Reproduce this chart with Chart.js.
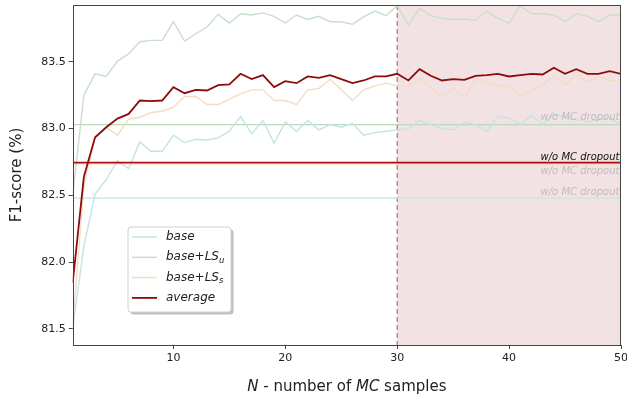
<!DOCTYPE html>
<html lang="en">
<head>
  <meta charset="UTF-8" />
  <title>F1-score vs number of MC samples</title>
  <script src="https://cdn.jsdelivr.net/npm/chart.js"></script>
  <style>
    body { margin: 0; background: #fff; }
    #wrap { width: 627px; height: 399px; }
  </style>
</head>
<body>
  <div id="wrap"><canvas id="f1Chart" width="627" height="399"></canvas></div>

  <script>
    const nSamples = [1, 2, 3, 4, 5, 6, 7, 8, 9, 10, 11, 12, 13, 14, 15, 16, 17, 18, 19, 20, 21, 22, 23, 24, 25,
      26, 27, 28, 29, 30, 31, 32, 33, 34, 35, 36, 37, 38, 39, 40, 41, 42, 43, 44, 45, 46, 47, 48, 49, 50];

    const baseF1 = [81.50, 82.12, 82.51, 82.62, 82.76, 82.70, 82.90, 82.83, 82.83, 82.95,
      82.895, 82.92, 82.915, 82.93, 82.98, 83.09, 82.96, 83.06, 82.89, 83.05,
      82.98, 83.06, 82.99, 83.03, 83.01, 83.04, 82.95, 82.97, 82.98, 82.99,
      83.00, 83.06, 83.03, 83.00, 82.99, 83.05, 83.03, 82.98, 83.09, 83.08,
      83.03, 83.10, 83.03, 83.11, 83.085, 83.065, 83.05, 83.065, 83.08, 83.03];

    const lsuF1 = [82.50, 83.25, 83.41, 83.39, 83.505, 83.56, 83.65, 83.66, 83.66, 83.80,
      83.655, 83.71, 83.76, 83.855, 83.79, 83.86, 83.85, 83.866, 83.84, 83.79,
      83.85, 83.817, 83.84, 83.80, 83.80, 83.78, 83.836, 83.88, 83.845, 83.92,
      83.775, 83.90, 83.845, 83.825, 83.817, 83.82, 83.81, 83.88, 83.825, 83.787,
      83.92, 83.86, 83.86, 83.85, 83.80, 83.86, 83.84, 83.80, 83.85, 83.85];

    const lssF1 = [81.53, 82.57, 82.93, 83.01, 82.95, 83.07, 83.085, 83.12, 83.13, 83.16,
      83.24, 83.24, 83.18, 83.18, 83.22, 83.26, 83.29, 83.29, 83.21, 83.21,
      83.18, 83.29, 83.30, 83.37, 83.29, 83.21, 83.29, 83.32, 83.34, 83.32,
      83.32, 83.375, 83.31, 83.235, 83.305, 83.23, 83.375, 83.35, 83.325, 83.31,
      83.25, 83.28, 83.325, 83.395, 83.33, 83.40, 83.35, 83.39, 83.36, 83.365];

    const avgF1 = [81.844, 82.64, 82.935, 83.01, 83.075, 83.11, 83.21, 83.205, 83.21, 83.31,
      83.265, 83.29, 83.285, 83.325, 83.33, 83.41, 83.37, 83.40, 83.31, 83.355,
      83.34, 83.39, 83.38, 83.40, 83.37, 83.34, 83.36, 83.39, 83.39, 83.41,
      83.36, 83.445, 83.395, 83.36, 83.37, 83.365, 83.395, 83.40, 83.41, 83.39,
      83.40, 83.41, 83.405, 83.455, 83.41, 83.445, 83.41, 83.41, 83.43, 83.41];

    // w/o MC dropout reference values: base, base+LS_u, base+LS_s, average
    const noDropoutF1 = [82.48, 83.03, 82.73, 82.745];
    const noDropoutText = 'w/o MC dropout';

    const xTicks = [10, 20, 30, 40, 50];
    const yTicks = [81.5, 82.0, 82.5, 83.0, 83.5];
    const shadeFrom = 30;
    const shadeTo = 50;

    const colors = ['#c4e4e4', '#c9dfca', '#f3dcc3', '#8e0b0b'];
    const flatColors = ['#c4e4e4', '#b9d9bb', 'rgba(243,220,195,0.6)', '#a80f0f'];
    const labelColors = ['rgba(150,150,150,0.5)', 'rgba(150,150,150,0.5)', 'rgba(150,150,150,0.5)', '#111'];
    const labelOffsets = [3, 5, -9, 3];

    const FONT = "'DejaVu Sans', sans-serif";
    Chart.defaults.font.family = FONT;

    const pts = arr => nSamples.map((n, i) => ({ x: n, y: arr[i] }));
    const flat = v => [{ x: nSamples[0], y: v }, { x: nSamples[nSamples.length - 1], y: v }];

    const series = [baseF1, lsuF1, lssF1, avgF1];
    const datasets = [];
    series.forEach((s, i) => {
      datasets.push({
        data: pts(s), borderColor: colors[i], borderWidth: i === 3 ? 1.8 : 1.4,
        pointRadius: 0, tension: 0, order: i === 3 ? 0 : 5 - i
      });
    });
    noDropoutF1.forEach((v, i) => {
      datasets.push({
        data: flat(v), borderColor: flatColors[i], borderWidth: i === 3 ? 1.6 : 1.2,
        pointRadius: 0, order: i === 3 ? 1 : 10 - i
      });
    });

    const decor = {
      id: 'decor',
      beforeDatasetsDraw(chart) {
        const { ctx, chartArea: a, scales: { x } } = chart;
        const x0 = x.getPixelForValue(shadeFrom), x1 = x.getPixelForValue(shadeTo);
        ctx.save();
        ctx.fillStyle = '#f2e2e3';
        ctx.fillRect(x0, a.top, x1 - x0, a.bottom - a.top);
        ctx.strokeStyle = 'rgba(165,70,70,0.75)';
        ctx.lineWidth = 1.2;
        ctx.setLineDash([5, 3]);
        ctx.beginPath();
        ctx.moveTo(x0, a.top);
        ctx.lineTo(x0, a.bottom);
        ctx.stroke();
        ctx.restore();
      },
      afterDatasetsDraw(chart) {
        const { ctx, chartArea: a, scales: { y } } = chart;
        ctx.save();
        ctx.font = 'italic 10px ' + FONT;
        ctx.textAlign = 'right';
        ctx.textBaseline = 'alphabetic';
        noDropoutF1.forEach((v, i) => {
          ctx.fillStyle = labelColors[i];
          ctx.fillText(noDropoutText, a.right - 1.5, y.getPixelForValue(v) - labelOffsets[i]);
        });
        ctx.restore();
      },
      afterDraw(chart) {
        const { ctx, chartArea: a } = chart;
        ctx.save();
        // frame
        ctx.strokeStyle = '#444';
        ctx.lineWidth = 1;
        ctx.strokeRect(Math.round(a.left) + 0.5, Math.round(a.top) + 0.5,
          Math.round(a.right - a.left) - 1, Math.round(a.bottom - a.top));

        // legend
        const lx = 128, ly = 227, lw = 103, lh = 85;
        ctx.fillStyle = 'rgba(0,0,0,0.25)';
        ctx.beginPath(); ctx.roundRect(lx + 2.5, ly + 2.5, lw, lh, 3); ctx.fill();
        ctx.fillStyle = '#fff';
        ctx.strokeStyle = '#d0d0d0';
        ctx.beginPath(); ctx.roundRect(lx, ly, lw, lh, 3); ctx.fill(); ctx.stroke();
        const names = [['base', ''], ['base+LS', 'u'], ['base+LS', 's'], ['average', '']];
        names.forEach((nm, i) => {
          const ry = ly + 10 + i * 20.3;
          ctx.strokeStyle = colors[i];
          ctx.lineWidth = i === 3 ? 1.8 : 1.5;
          ctx.beginPath(); ctx.moveTo(lx + 4, ry); ctx.lineTo(lx + 29, ry); ctx.stroke();
          ctx.fillStyle = '#222';
          ctx.textBaseline = 'middle';
          ctx.textAlign = 'left';
          ctx.font = 'italic 12px ' + FONT;
          ctx.fillText(nm[0], lx + 38, ry);
          if (nm[1]) {
            const w = ctx.measureText(nm[0]).width;
            ctx.font = 'italic 8.5px ' + FONT;
            ctx.fillText(nm[1], lx + 38 + w, ry + 3.5);
          }
        });

        // x-axis title with italic parts
        const parts = [['N', true], [' - number of ', false], ['MC', true], [' samples', false]];
        const fontOf = it => (it ? 'italic ' : '') + '15px ' + FONT;
        let total = 0;
        parts.forEach(p => { ctx.font = fontOf(p[1]); total += ctx.measureText(p[0]).width; });
        let tx = (a.left + a.right) / 2 - total / 2;
        ctx.fillStyle = '#222';
        ctx.textBaseline = 'middle';
        parts.forEach(p => {
          ctx.font = fontOf(p[1]);
          ctx.fillText(p[0], tx, 387);
          tx += ctx.measureText(p[0]).width;
        });
        ctx.restore();
      }
    };

    new Chart(document.getElementById('f1Chart'), {
      type: 'line',
      data: { datasets },
      plugins: [decor],
      options: {
        responsive: false,
        animation: false,
        layout: { padding: { top: 5, right: 6, left: 0, bottom: 0 } },
        plugins: { legend: { display: false }, tooltip: { enabled: false } },
        scales: {
          x: {
            type: 'linear', min: 1, max: 50,
            afterBuildTicks: s => { s.ticks = xTicks.map(v => ({ value: v })); },
            afterFit: s => { s.height = 54; s.paddingLeft = 0; s.paddingRight = 0; },
            ticks: { color: '#222', font: { size: 11 }, padding: 3, maxRotation: 0, callback: v => v },
            grid: { drawOnChartArea: false, tickLength: 4, color: '#444' },
            border: { display: false }
          },
          y: {
            min: 81.38, max: 83.925,
            afterBuildTicks: s => { s.ticks = yTicks.map(v => ({ value: v })); },
            afterFit: s => { s.width = 72.7; s.paddingTop = 0; s.paddingBottom = 0; },
            ticks: { color: '#222', font: { size: 11 }, padding: 3, callback: v => v.toFixed(1) },
            grid: { drawOnChartArea: false, tickLength: 4, color: '#444' },
            border: { display: false },
            title: { display: true, text: 'F1-score (%)', color: '#222', font: { size: 15 }, padding: { top: 8 } }
          }
        }
      }
    });
  </script>
</body>
</html>
